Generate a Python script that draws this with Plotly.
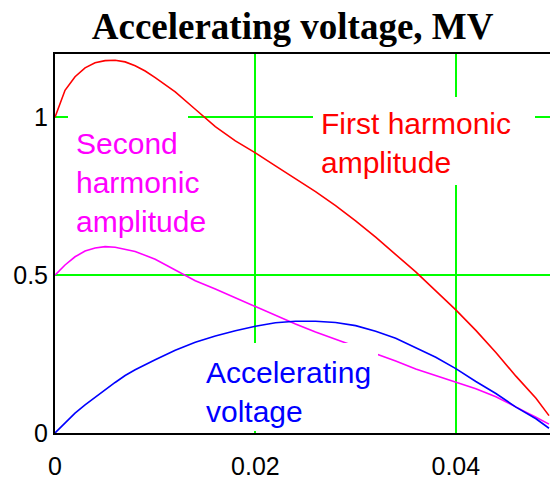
import plotly.graph_objects as go

# Time axis (s) and the three voltage curves (MV)
t_first = [0, 0.001, 0.002, 0.003, 0.004, 0.005, 0.006, 0.007, 0.008, 0.009, 0.010,
           0.012, 0.014, 0.016, 0.018, 0.020, 0.022, 0.024, 0.026, 0.028, 0.030,
           0.032, 0.034, 0.036, 0.038, 0.040, 0.042, 0.044, 0.046, 0.048, 0.0493]
first_harmonic = [1.000, 1.085, 1.128, 1.156, 1.172, 1.179, 1.180, 1.175, 1.163, 1.146, 1.125,
                  1.080, 1.025, 0.970, 0.925, 0.887, 0.846, 0.805, 0.764, 0.720, 0.672,
                  0.620, 0.565, 0.510, 0.450, 0.390, 0.325, 0.255, 0.180, 0.110, 0.055]

t_second = [0, 0.001, 0.002, 0.003, 0.004, 0.005, 0.006, 0.008, 0.010, 0.012, 0.014,
            0.016, 0.018, 0.020, 0.022, 0.024, 0.026, 0.028, 0.030, 0.032, 0.034,
            0.036, 0.038, 0.040, 0.042, 0.044, 0.045, 0.046, 0.047, 0.048, 0.0493]
second_harmonic = [0.500, 0.532, 0.558, 0.576, 0.586, 0.590, 0.588, 0.575, 0.550, 0.515, 0.482,
                   0.456, 0.428, 0.400, 0.372, 0.345, 0.320, 0.297, 0.274, 0.252, 0.228,
                   0.203, 0.182, 0.162, 0.140, 0.115, 0.098, 0.082, 0.066, 0.050, 0.028]

t_acc = [0, 0.001, 0.002, 0.003, 0.004, 0.005, 0.006, 0.007, 0.008, 0.010, 0.012,
         0.014, 0.016, 0.018, 0.020, 0.022, 0.024, 0.026, 0.028, 0.030, 0.032,
         0.034, 0.036, 0.038, 0.040, 0.042, 0.044, 0.046, 0.048, 0.0493]
accelerating = [0.000, 0.033, 0.063, 0.089, 0.113, 0.137, 0.160, 0.182, 0.200, 0.232, 0.262,
                0.287, 0.307, 0.324, 0.338, 0.349, 0.354, 0.354, 0.350, 0.340, 0.322,
                0.300, 0.270, 0.240, 0.204, 0.163, 0.125, 0.082, 0.045, 0.015]

x_ticks = [0, 0.02, 0.04]
x_tick_text = ["0", "0.02", "0.04"]
y_ticks = [0, 0.5, 1]
y_tick_text = ["0", "0.5", "1"]

GREEN = "#00ff00"
LABEL_FONT = "Liberation Sans, Arial, sans-serif"

fig = go.Figure()
fig.add_trace(go.Scatter(x=t_first, y=first_harmonic, mode="lines",
                         line=dict(color="#ff0000", width=1.6)))
fig.add_trace(go.Scatter(x=t_second, y=second_harmonic, mode="lines",
                         line=dict(color="#ff00ff", width=1.6)))
fig.add_trace(go.Scatter(x=t_acc, y=accelerating, mode="lines",
                         line=dict(color="#0000ff", width=1.6)))

# White text regions that hide the grid and curves beneath the labels
covers = [
    dict(x=0.02575, y=1.0636, width=222, height=88),
    dict(x=0.0013, y=1.0047, width=120, height=128),
    dict(x=0.01447, y=0.2853, width=178, height=88),
]
for c in covers:
    fig.add_annotation(text=" ", xref="x", yref="y", xanchor="left", yanchor="top",
                       showarrow=False, bgcolor="white", borderpad=0, borderwidth=0,
                       font=dict(size=2), **c)

labels = [
    dict(text="First harmonic<br>amplitude", x=0.02645, y=1.0357, color="#ff0000"),
    dict(text="Second<br>harmonic<br>amplitude", x=0.0020, y=0.9705, color="#ff00ff"),
    dict(text="Accelerating<br>voltage", x=0.01497, y=0.2480, color="#0000ff"),
]
for lab in labels:
    fig.add_annotation(text=lab["text"], x=lab["x"], y=lab["y"], xref="x", yref="y",
                       xanchor="left", yanchor="top", align="left", showarrow=False,
                       borderpad=0, font=dict(family=LABEL_FONT, size=30, color=lab["color"]))

fig.update_layout(
    width=550, height=480,
    margin=dict(l=55, r=0, t=54, b=39),
    paper_bgcolor="white", plot_bgcolor="white",
    showlegend=False,
    title=dict(text="Accelerating voltage, MV", xref="container", x=0.532,
               yref="container", y=0.946, xanchor="center", yanchor="middle",
               font=dict(family="Liberation Serif, Times New Roman, serif",
                         size=37, color="black", weight="bold")),
)
fig.update_xaxes(range=[0, 0.0494], tickvals=x_ticks, ticktext=x_tick_text,
                 showgrid=True, gridcolor=GREEN, gridwidth=2, zeroline=False,
                 showline=True, linecolor="black", linewidth=2, mirror=True,
                 ticks="", ticklabelstandoff=10,
                 tickfont=dict(family=LABEL_FONT, size=25, color="black"))
fig.update_yaxes(range=[0, 1.2], tickvals=y_ticks, ticktext=y_tick_text,
                 showgrid=True, gridcolor=GREEN, gridwidth=2, zeroline=False,
                 showline=True, linecolor="black", linewidth=2, mirror=False,
                 ticks="", ticklabelstandoff=0,
                 tickfont=dict(family=LABEL_FONT, size=25, color="black"))

fig.write_html("out.html")
